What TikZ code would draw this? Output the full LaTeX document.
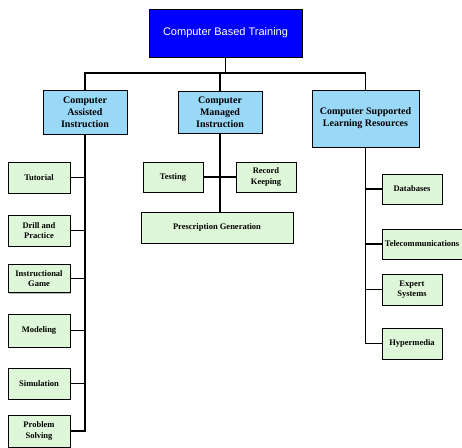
\documentclass[tikz,border=0pt]{standalone}
\usepackage{fontspec}
\setmainfont{Liberation Serif}
\newfontfamily\arialf{Liberation Sans}
\usetikzlibrary{shadows}
\definecolor{topblue}{RGB}{0,0,255}
\definecolor{midblue}{RGB}{153,217,247}
\definecolor{leafgreen}{RGB}{222,247,216}
\tikzset{
  box/.style={draw=black, line width=1pt, rectangle, inner sep=1pt, align=center,
    drop shadow={shadow xshift=1pt, shadow yshift=-1pt, fill=black!55}},
  topbox/.style={box, fill=topblue, text=white, font=\arialf\fontsize{11}{13}\selectfont},
  midbox/.style={box, fill=midblue, font=\bfseries\fontsize{10}{12}\selectfont},
  leaf/.style={box, fill=leafgreen, font=\bfseries\fontsize{8.5}{10.5}\selectfont},
  conn/.style={line width=1.5pt, draw=black}
}
\begin{document}
\begin{tikzpicture}[x=1pt,y=-1pt]
\useasboundingbox (0,0) rectangle (462,447);
\node[topbox, minimum width=153pt, minimum height=48pt] (top) at (225.5,33) {Computer Based Training};
\node[midbox, minimum width=84pt, minimum height=44pt] (cai) at (85,112) {Computer\\Assisted\\Instruction};
\node[midbox, minimum width=84pt, minimum height=42pt] (cmi) at (220,112) {Computer\\Managed\\Instruction};
\node[midbox, minimum width=107pt, minimum height=57pt] (cslr) at (365.5,118.5) {Computer Supported\\Learning Resources};

\node[leaf, minimum width=62pt, minimum height=31pt] (tut) at (39,177.5) {Tutorial};
\node[leaf, minimum width=62pt, minimum height=31pt] (dap) at (39,230.5) {Drill and\\Practice};
\node[leaf, minimum width=62pt, minimum height=28pt] (ig) at (39,278.5) {Instructional\\Game};
\node[leaf, minimum width=62pt, minimum height=33pt] (mod) at (39,330.5) {Modeling};
\node[leaf, minimum width=62pt, minimum height=31pt] (sim) at (39,383.5) {Simulation};
\node[leaf, minimum width=62pt, minimum height=32pt] (ps) at (39,431) {Problem\\Solving};

\node[leaf, minimum width=60pt, minimum height=30pt] (test) at (173,177) {Testing};
\node[leaf, minimum width=60pt, minimum height=30pt] (rec) at (266,177) {Record\\Keeping};
\node[leaf, minimum width=152pt, minimum height=31pt] (pg) at (217,227.5) {Prescription Generation};

\node[leaf, minimum width=60pt, minimum height=30pt] (db) at (412,189) {Databases};
\node[leaf, minimum width=80pt, minimum height=30pt] (tel) at (422,244) {Telecommunications};
\node[leaf, minimum width=60pt, minimum height=31pt] (exp) at (412,289.5) {Expert\\Systems};
\node[leaf, minimum width=60pt, minimum height=31pt] (hyp) at (412,343.5) {Hypermedia};

\coordinate (bus) at (225,73);
\draw[conn] (top.south) -- (top.south |- bus);
\draw[conn] (cai.north) -- (cai.north |- bus) -- (cslr.north |- bus) -- (cslr.north);
\draw[conn] (cmi.north) -- (cmi.north |- bus);

\draw[conn] (cai.south) |- (ps.east);
\foreach \n in {tut,dap,ig,mod,sim}
  \draw[conn] (\n.east) -- (\n.east -| cai.south);

\draw[conn] (cmi.south) -- (cmi.south |- pg.north);
\draw[conn] (test.east) -- (rec.west);

\draw[conn] (cslr.south) |- (hyp.west);
\foreach \n in {db,tel,exp}
  \draw[conn] (\n.west) -- (\n.west -| cslr.south);
\end{tikzpicture}
\end{document}
